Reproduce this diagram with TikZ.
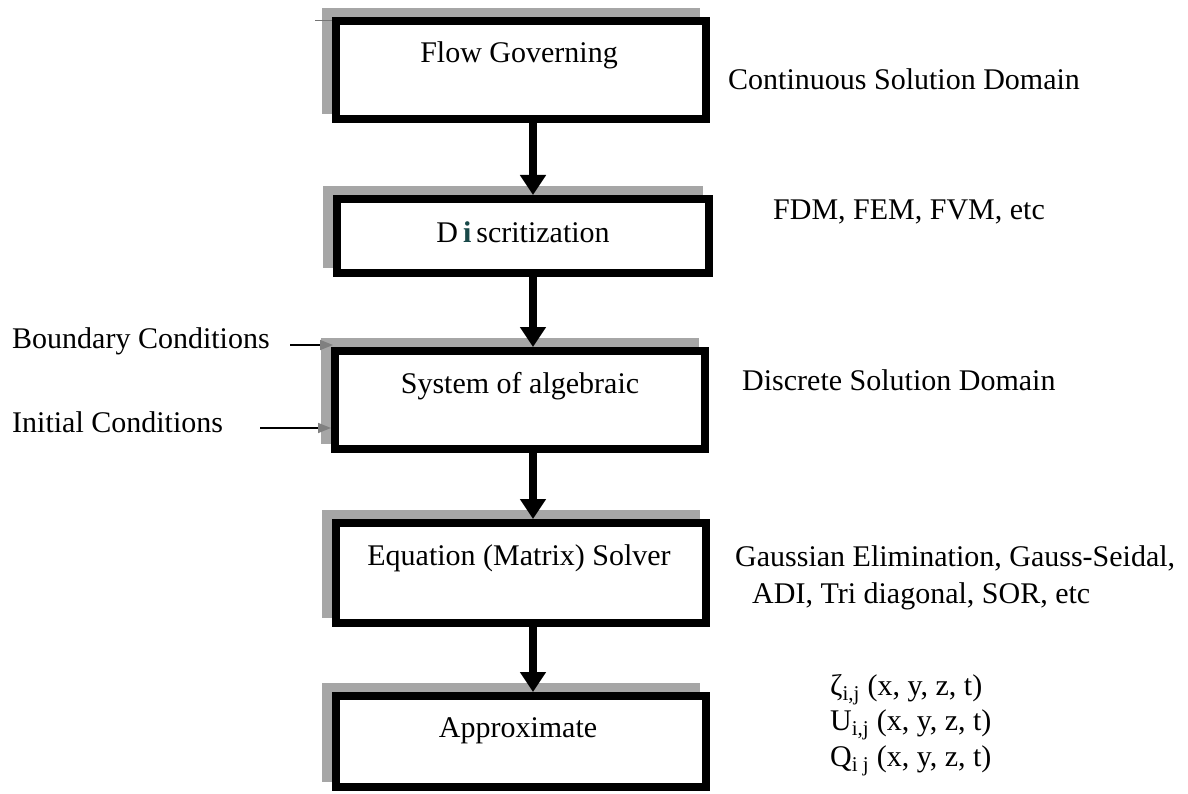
\documentclass[tikz,border=0pt]{standalone}
\usepackage{fontspec}
\setmainfont{Liberation Serif}
\usetikzlibrary{arrows.meta}
\definecolor{shade}{RGB}{166,166,166}
\definecolor{tipgray}{RGB}{128,128,128}
\definecolor{idot}{RGB}{24,72,72}
\begin{document}
\begin{tikzpicture}[x=1pt,y=-1pt,
  font=\fontsize{30}{36}\selectfont,
  stage/.style={draw=black, fill=white, line width=8pt, rectangle, inner sep=0pt,
    minimum width=370pt,
    preaction={draw=shade, fill=shade, line width=8pt, transform canvas={shift={(-10pt,9pt)}}}},
  caption/.style={anchor=base, inner sep=0pt},
  note/.style={anchor=base west, inner sep=0pt},
  flow/.style={line width=8pt, -{Triangle[width=25pt,length=20pt]}},
  feed/.style={line width=1.5pt, -{Triangle[width=10pt,length=13pt,color=tipgray]}}
]
\useasboundingbox (0,0) rectangle (1188,794);

% main chain of boxes
\node[stage, minimum height=98pt] (b1) at (521,70) {};
\node[stage, minimum width=372pt, minimum height=74pt] (b2) at (523,236) {};
\node[stage, minimum height=98pt] (b3) at (520,400) {};
\node[stage, minimum height=100pt] (b4) at (521,573) {};
\node[stage, minimum height=91pt] (b5) at (521,741.5) {};

% box titles
\node[caption] (t1) at (519,63) {Flow Governing};
\node[caption] (t2) at (523,243) {D\,{\color{idot}\textbf{i}}\,scritization};
\node[caption] (t3) at (520,393) {System of algebraic};
\node[caption] (t4) at (519,565) {Equation (Matrix) Solver};
\node[caption] (t5) at (518,737) {Approximate};

% small tick at the top-left corner of the first box
\draw[line width=1pt, shade!70!black] (315,21) -- (332,21);

% arrows between stages
\coordinate (axis) at (533,0);
\draw[flow] (b1.south -| axis) -- (b2.north -| axis);
\draw[flow] (b2.south -| axis) -- (b3.north -| axis);
\draw[flow] (b3.south -| axis) -- (b4.north -| axis);
\draw[flow] (b4.south -| axis) -- (b5.north -| axis);

% inputs on the left
\node[note] (bc) at (12,348) {Boundary Conditions};
\node[note] (ic) at (12,432) {Initial Conditions};
\coordinate (bcTail) at (290,345);
\coordinate (bcTip) at (333,345);
\coordinate (icTail) at (260,428);
\coordinate (icTip) at (331,428);
\draw[feed] (bcTail) -- (bcTip);
\draw[feed] (icTail) -- (icTip);

% annotations on the right
\node[note] (n1) at (728,90) {Continuous Solution Domain};
\node[note] (n2) at (773,220) {FDM, FEM, FVM, etc};
\node[note] (n3) at (742,390) {Discrete Solution Domain};
\node[note] (n4) at (735,566) {Gaussian Elimination, Gauss-Seidal,};
\node[note] (n5) at (752,603) {ADI, Tri diagonal, SOR, etc};
\node[note] (n6) at (830,695) {ζ\textsubscript{i,j} (x, y, z, t)};
\node[note] (n7) at (830,730) {U\textsubscript{i,j} (x, y, z, t)};
\node[note] (n8) at (830,766) {Q\textsubscript{i j} (x, y, z, t)};
\end{tikzpicture}
\end{document}
